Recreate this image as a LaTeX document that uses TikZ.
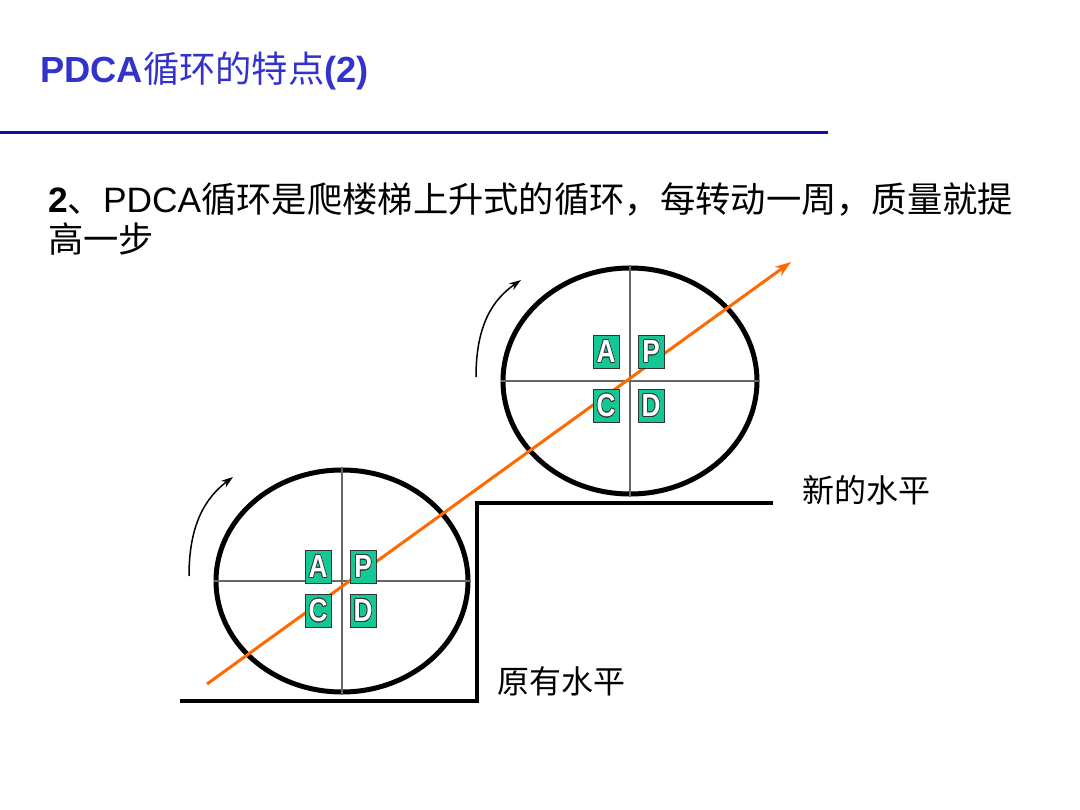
\documentclass[tikz,border=0pt]{standalone}
\usepackage{fontspec}
\setmainfont{Liberation Sans}
\newfontfamily\cjk{Noto Sans CJK SC}
\usepackage{contour}
\contourlength{0.8pt}
\usetikzlibrary{shapes.geometric,arrows.meta}
\definecolor{titleblue}{HTML}{3333CC}
\definecolor{lineblue}{HTML}{1010A0}
\definecolor{boxgreen}{HTML}{14C896}
\definecolor{orangeline}{HTML}{FF6A00}
\newcommand{\plet}[1]{\scalebox{0.82}[1]{\contour{black!80}{#1}}}
\tikzset{
  pbox/.style={draw=black!80, fill=boxgreen, minimum width=26pt, minimum height=33pt,
    inner sep=0pt, line width=0.8pt, text=white,
    font=\fontsize{32}{32}\selectfont\bfseries},
  cyc/.style={ellipse, draw=black, line width=5pt, fill=white, inner sep=0pt},
  crossline/.style={draw=black!60, line width=1.2pt},
  rotarrow/.style={draw=black, line width=1.5pt, -{Stealth[length=12pt,width=8pt]}},
  lvl/.style={font=\cjk\fontsize{32}{32}\selectfont, inner sep=0pt},
}
\begin{document}
\begin{tikzpicture}[x=1pt,y=-1pt]
\useasboundingbox (0,0) rectangle (1080,810);
% title
\node[anchor=base west, inner sep=0pt, text=titleblue, font=\fontsize{36.3}{36}\selectfont]
  (title) at (40,83) {{\bfseries PDCA}{\cjk 循环的特点}{\bfseries(2)}};
\draw[lineblue, line width=3pt] (0,133) -- (828,133);
% body
\node[anchor=base west, inner sep=0pt, font=\fontsize{35.3}{40}\selectfont]
  (line1) at (48,213) {{\bfseries 2}{\cjk 、}PDCA{\cjk 循环是爬楼梯上升式的循环，每转动一周，质量就提}};
\node[anchor=base west, inner sep=0pt, font=\fontsize{35.3}{40}\selectfont]
  (line2) at (48,253) {{\cjk 高一步}};
% step
\coordinate (s0) at (180,701);
\coordinate (s1) at (477,701);
\coordinate (s2) at (477,503);
\coordinate (s3) at (773,503);
\draw[black, line width=4pt] (s0) -- (s1) -- (s2) -- (s3);
% ellipses
\node[cyc, minimum width=252pt, minimum height=222pt] (e1) at (342,581) {};
\node[cyc, minimum width=254pt, minimum height=226pt] (e2) at (630,381) {};
\draw[crossline] (e1.west) -- (e1.east);
\draw[crossline] (e1.north) -- (e1.south);
\draw[crossline] (e2.west) -- (e2.east);
\draw[crossline] (e2.north) -- (e2.south);
% rotation arrows
\coordinate (r1a) at (189,576);
\coordinate (r1b) at (233,477);
\draw[rotarrow] (r1a) .. controls (189,525) and (205,498) .. (r1b);
\coordinate (r2a) at (476,377);
\coordinate (r2b) at (521,280);
\draw[rotarrow] (r2a) .. controls (476,326) and (492,300) .. (r2b);
% orange arrow
\coordinate (o0) at (207,684);
\coordinate (o1) at (791,262);
\draw[orangeline, line width=3pt, -{Stealth[length=16pt,width=11pt]}] (o0) -- (o1);
% boxes
\node[pbox] (a1) at (318,567) {\plet{A}};
\node[pbox] (p1) at (363,567) {\plet{P}};
\node[pbox] (c1) at (318,611) {\plet{C}};
\node[pbox] (d1) at (363,611) {\plet{D}};
\node[pbox] (a2) at (606,352) {\plet{A}};
\node[pbox] (p2) at (651,352) {\plet{P}};
\node[pbox] (c2) at (606,406) {\plet{C}};
\node[pbox] (d2) at (651,406) {\plet{D}};
% level labels
\node[lvl] (new) at (866,490) {新的水平};
\node[lvl] (old) at (561,681) {原有水平};
\end{tikzpicture}
\end{document}
